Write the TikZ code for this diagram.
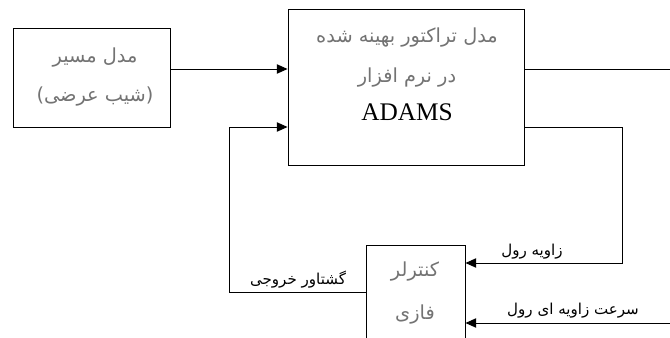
\documentclass[tikz,border=0pt]{standalone}
\usepackage{fontspec}
\setmainfont{Liberation Serif}
\newfontfamily\farsi[Script=Arabic]{DejaVu Sans}
\TeXXeTstate=1
\usetikzlibrary{arrows.meta}
\newcommand{\fa}[1]{{\farsi\beginR #1\endR}}
\definecolor{boxtext}{gray}{0.45}

\begin{document}
\begin{tikzpicture}[x=0.75pt, y=-0.75pt,
  box/.style={draw, line width=0.7pt, inner sep=0pt},
  arr/.style={-{Triangle[length=8pt,width=7pt]}, line width=0.7pt},
  intext/.style={font=\fontsize{14.5}{16}\selectfont, text=boxtext, inner sep=0pt},
  sig/.style={font=\fontsize{11.3}{13}\selectfont, inner sep=0pt}]
  \clip (0,0) rectangle (670,338);

  % blocks
  \node[box, minimum width=117.75pt, minimum height=74.25pt] (route) at (91.5,77.5) {};
  \node[box, minimum width=177pt, minimum height=117pt] (model) at (406,87) {};
  \node[box, minimum width=74.25pt, minimum height=78.75pt] (ctrl) at (415.5,297.5) {};

  % block texts
  \node[intext] (route-l1) at (95,58) {\fa{مدل مسیر}};
  \node[intext] (route-l2) at (95,97) {\fa{(شیب عرضی)}};
  \node[intext] (model-l1) at (407,38) {\fa{مدل تراکتور بهینه شده}};
  \node[intext] (model-l2) at (407,78) {\fa{در نرم افزار}};
  \node[inner sep=0pt, font=\fontsize{19}{21}\selectfont] (model-l3) at (407,112) {ADAMS};
  \node[intext] (ctrl-l1) at (415,272) {\fa{کنترلر}};
  \node[intext] (ctrl-l2) at (415,315) {\fa{فازی}};

  % ports and bends
  \coordinate (in1) at (0,69);
  \coordinate (in2) at (0,127);
  \coordinate (out1) at (670,69);
  \coordinate (turn) at (622,263);
  \coordinate (rate) at (670,323);
  \coordinate (torq) at (229,292);

  % connectors
  \draw[arr] (route.east |- in1) -- (model.west |- in1);
  \draw[line width=0.7pt] (model.east |- in1) -- (out1);
  \draw[arr] (model.east |- in2) -| (turn) -- (ctrl.east |- turn);
  \draw[arr] (rate) -- (ctrl.east |- rate);
  \draw[arr] (ctrl.west |- torq) -- (torq) |- (model.west |- in2);

  % signal labels
  \node[sig] (roll) at (532,252) {\fa{زاویه رول}};
  \node[sig] (rollrate) at (573,311) {\fa{سرعت زاویه ای رول}};
  \node[sig] (torque) at (298,280) {\fa{گشتاور خروجی}};
\end{tikzpicture}
\end{document}
